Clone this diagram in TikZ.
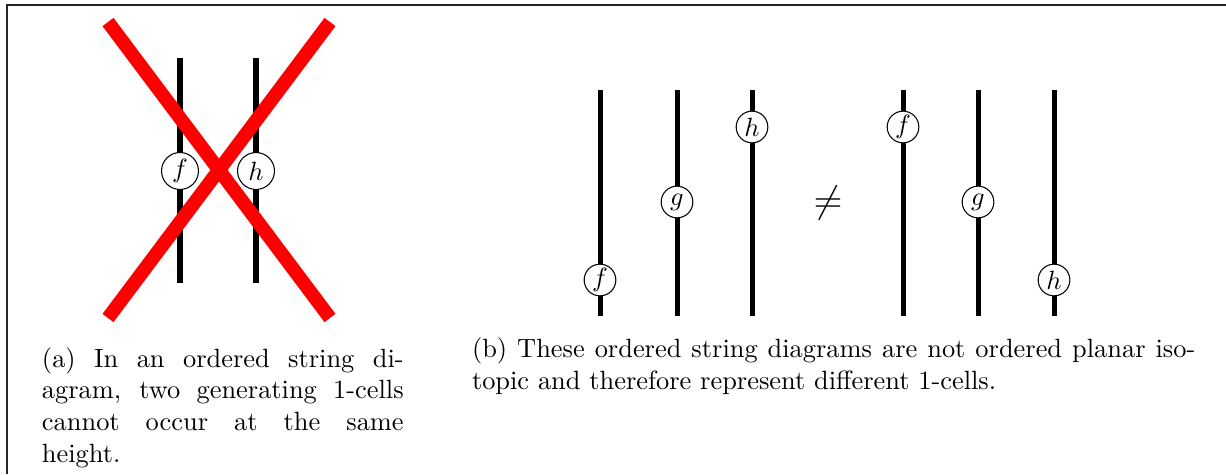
\documentclass[tikz,border=0pt]{standalone}
\begin{document}
\begin{tikzpicture}[x=0.3788pt,y=-0.3788pt,
  str/.style={line width=1.9pt,black},
  gen/.style={circle,draw,fill=white,line width=0.4pt,inner sep=0pt,minimum size=#1},
  gen/.default=12pt,
  cross/.style={line width=5.2pt,red},
  frame/.style={line width=0.6pt,black!85},
  captxt/.style={anchor=base west,inner sep=0pt,outer sep=0pt}]
\useasboundingbox (0,0) rectangle (1226,474);
% frame
\coordinate (fl) at (7,474);
\coordinate (fc) at (7,5);
\coordinate (fr) at (1226,5);
\draw[frame] (fl) -- (fc) -- (fr);
% (a)
\coordinate (a1t) at (180,58); \coordinate (a1b) at (180,283);
\coordinate (a2t) at (256,58); \coordinate (a2b) at (256,283);
\draw[str] (a1t) -- (a1b);
\draw[str] (a2t) -- (a2b);
\node[gen=14pt] (af) at (180,171) {$f$};
\node[gen=14pt] (ah) at (256,171) {$h$};
\coordinate (x1) at (108,22); \coordinate (x2) at (330,318);
\coordinate (x3) at (330,22); \coordinate (x4) at (108,318);
\draw[cross] (x1) -- (x2);
\draw[cross] (x3) -- (x4);
\node[captxt] (ca1) at (42,367) {\makebox[137pt][s]{(a) In an ordered string di-}};
\node[captxt] (ca2) at (42,398) {\makebox[137pt][s]{agram, two generating 1-cells}};
\node[captxt] (ca3) at (42,430) {\makebox[137pt][s]{cannot occur at the same}};
\node[captxt] (ca4) at (42,462) {height.};
% (b)
\foreach \n/\x in {b1/600,b2/677,b3/752,b4/903,b5/978,b6/1054}{
  \coordinate (\n t) at (\x,90); \coordinate (\n b) at (\x,316);
  \draw[str] (\n t) -- (\n b);
}
\node[gen] (bf) at (600,280) {$f$};
\node[gen] (bg) at (677,202) {$g$};
\node[gen] (bh) at (752,127) {$h$};
\node[gen] (bf2) at (903,127) {$f$};
\node[gen] (bg2) at (978,202) {$g$};
\node[gen] (bh2) at (1054,280) {$h$};
\node[font=\Large] (neq) at (828,203) {$\neq$};
\node[captxt] (cb1) at (472,357) {\makebox[274pt][s]{(b) These ordered string diagrams are not ordered planar iso-}};
\node[captxt] (cb2) at (472,389) {topic and therefore represent different 1-cells.};
\end{tikzpicture}
\end{document}
